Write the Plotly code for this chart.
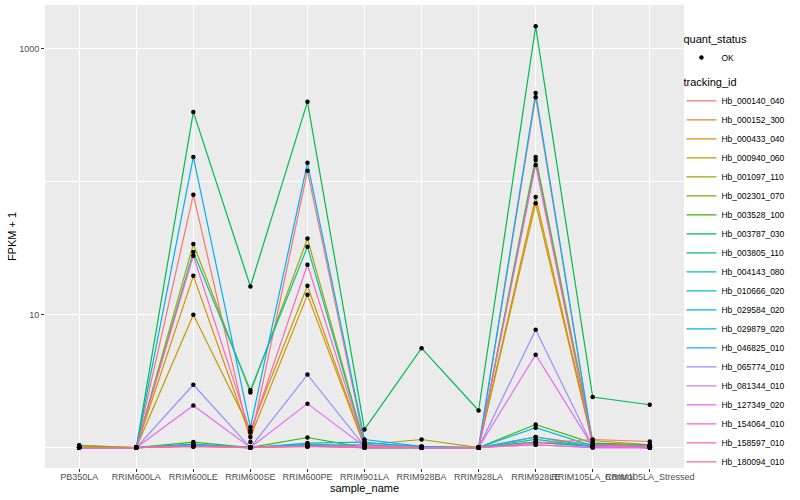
import plotly.graph_objects as go

samples = ["PB350LA", "RRIM600LA", "RRIM600LE", "RRIM600SE", "RRIM600PE",
           "RRIM901LA", "RRIM928BA", "RRIM928LA", "RRIM928LE",
           "RRIM105LA_Control", "RRIM105LA_Stressed"]

tracking_ids = ["Hb_000140_040", "Hb_000152_300", "Hb_000433_040", "Hb_000940_060",
                "Hb_001097_110", "Hb_002301_070", "Hb_003528_100", "Hb_003787_030",
                "Hb_003805_110", "Hb_004143_080", "Hb_010666_020", "Hb_029584_020",
                "Hb_029879_020", "Hb_046825_010", "Hb_065774_010", "Hb_081344_010",
                "Hb_127349_020", "Hb_154064_010", "Hb_158597_010", "Hb_180094_010"]

colors = ["#F8766D", "#EA8331", "#D89000", "#C09B00", "#A3A500", "#7CAE00",
          "#39B600", "#00BB4E", "#00BF7D", "#00C1A3", "#00BFC4", "#00BAE0",
          "#00B0F6", "#35A2FF", "#9590FF", "#C77CFF", "#E76BF3", "#FA62DB",
          "#FF62BC", "#FF6C91"]

# FPKM + 1 per tracking_id, in sample order
v_000140_040 = [1.0, 1.0, 80, 1.1, 121, 1.08, 1.02, 1.0, 434, 1.05, 1.02]
v_000152_300 = [1.0, 1.0, 1.05, 1.0, 1.05, 1.0, 1.0, 1.0, 1.1, 1.02, 1.0]
v_000433_040 = [1.0, 1.0, 19.6, 1.2, 14.1, 1.02, 1.0, 1.0, 69, 1.05, 1.02]
v_000940_060 = [1.0, 1.0, 10.0, 1.35, 16.5, 1.02, 1.0, 1.0, 77, 1.08, 1.02]
v_001097_110 = [1.04, 1.0, 34, 2.6, 37.4, 1.05, 1.15, 1.0, 154, 1.13, 1.05]
v_002301_070 = [1.03, 1.0, 1.05, 1.0, 1.06, 1.02, 1.0, 1.0, 1.2, 1.05, 1.03]
v_003528_100 = [1.0, 1.0, 1.1, 1.0, 1.19, 1.0, 1.0, 1.0, 1.49, 1.08, 1.05]
v_003787_030 = [1.0, 1.0, 336, 16.3, 400, 1.37, 5.6, 1.9, 1480, 2.4, 2.1]
v_003805_110 = [1.0, 1.0, 1.03, 1.0, 1.03, 1.0, 1.0, 1.0, 1.1, 1.02, 1.0]
v_004143_080 = [1.0, 1.0, 29.6, 2.7, 32.5, 1.05, 1.0, 1.0, 146, 1.05, 1.02]
v_010666_020 = [1.0, 1.0, 1.04, 1.0, 1.04, 1.0, 1.0, 1.0, 1.15, 1.02, 1.0]
v_029584_020 = [1.0, 1.0, 1.06, 1.0, 1.08, 1.1, 1.0, 1.0, 1.41, 1.03, 1.01]
v_029879_020 = [1.0, 1.0, 154, 1.42, 139, 1.15, 1.02, 1.0, 466, 1.05, 1.02]
v_046825_010 = [1.0, 1.0, 1.05, 1.0, 1.05, 1.05, 1.0, 1.0, 1.2, 1.02, 1.0]
v_065774_010 = [1.0, 1.0, 2.97, 1.0, 3.54, 1.02, 1.0, 1.0, 7.7, 1.02, 1.0]
v_081344_010 = [1.0, 1.0, 1.02, 1.0, 1.02, 1.0, 1.0, 1.0, 1.05, 1.0, 1.0]
v_127349_020 = [1.0, 1.0, 2.07, 1.0, 2.14, 1.02, 1.0, 1.0, 5.0, 1.02, 1.0]
v_154064_010 = [1.0, 1.0, 1.02, 1.0, 1.02, 1.0, 1.0, 1.0, 1.05, 1.0, 1.0]
v_158597_010 = [1.0, 1.0, 27.8, 1.3, 23.8, 1.03, 1.0, 1.0, 134, 1.05, 1.02]
v_180094_010 = [1.0, 1.0, 1.02, 1.0, 1.02, 1.02, 1.0, 1.0, 1.08, 1.15, 1.11]

series = [v_000140_040, v_000152_300, v_000433_040, v_000940_060, v_001097_110,
          v_002301_070, v_003528_100, v_003787_030, v_003805_110, v_004143_080,
          v_010666_020, v_029584_020, v_029879_020, v_046825_010, v_065774_010,
          v_081344_010, v_127349_020, v_154064_010, v_158597_010, v_180094_010]

FONT = "Liberation Sans, Arial, Helvetica, sans-serif"

fig = go.Figure()

for name, col, vals in zip(tracking_ids, colors, series):
    fig.add_trace(go.Scatter(
        x=samples, y=vals, mode="lines", name=name, showlegend=True,
        line=dict(color=col, width=1.2), legend="legend2"))

all_x = [s for vals in series for s in samples]
all_y = [v for vals in series for v in vals]
fig.add_trace(go.Scatter(
    x=all_x, y=all_y, mode="markers", name="OK", showlegend=True,
    marker=dict(color="black", size=4.5), legend="legend"))

fig.update_layout(
    width=800, height=500, showlegend=True,
    paper_bgcolor="white", plot_bgcolor="#EBEBEB",
    margin=dict(l=45, r=116, t=5, b=32, autoexpand=False),
    font=dict(family=FONT, color="#4D4D4D", size=9),
    xaxis=dict(
        type="category", categoryorder="array", categoryarray=samples,
        range=[-0.6, 10.6], showgrid=True, gridcolor="white", gridwidth=1.1,
        zeroline=False, showline=False, tickangle=0, automargin=False,
        ticks="outside", ticklen=3, tickcolor="#333333", tickwidth=1,
        ticklabelstandoff=-3,
        tickfont=dict(size=9, color="#4D4D4D"),
        title=dict(text="sample_name", font=dict(size=11, color="black"), standoff=0),
    ),
    yaxis=dict(
        type="log", range=[-0.154, 3.331], automargin=False,
        tickmode="array", tickvals=[10, 1000], ticktext=["10", "1000"],
        showgrid=True, gridcolor="white", gridwidth=1.1,
        minor=dict(tickmode="array", tickvals=[1, 100], showgrid=True,
                   gridcolor="white", gridwidth=0.5, ticks=""),
        zeroline=False, showline=False,
        ticks="outside", ticklen=3, tickcolor="#333333", tickwidth=1,
        tickfont=dict(size=9, color="#4D4D4D"),
        title=dict(text="FPKM + 1", font=dict(size=11, color="black"), standoff=0),
    ),
    legend=dict(
        x=0.996, y=0.949, xanchor="left", yanchor="top",
        title=dict(text="quant_status", font=dict(size=11, color="black")),
        font=dict(size=8.5, color="black"), bgcolor="rgba(0,0,0,0)",
        itemwidth=30,
    ),
    legend2=dict(
        x=0.996, y=0.855, xanchor="left", yanchor="top",
        title=dict(text="tracking_id", font=dict(size=11, color="black")),
        font=dict(size=8.5, color="black"), bgcolor="rgba(0,0,0,0)",
        itemwidth=30, tracegroupgap=0,
    ),
)

fig.write_html("out.html", config={"displayModeBar": False},
               post_script="document.body.style.margin='0px';")
